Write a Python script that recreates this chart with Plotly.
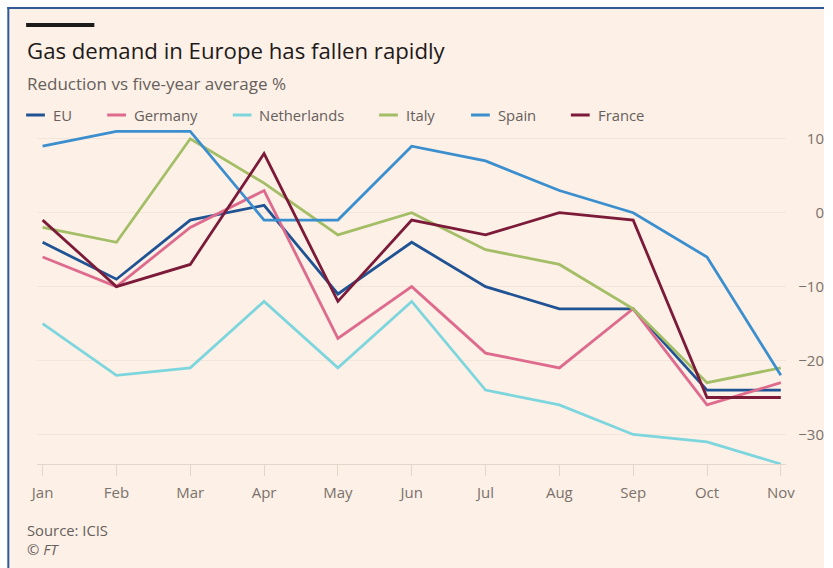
import plotly.graph_objects as go

# --- data -------------------------------------------------------------
months = ["Jan", "Feb", "Mar", "Apr", "May", "Jun", "Jul", "Aug", "Sep", "Oct", "Nov"]

eu = [-4, -9, -1, 1, -11, -4, -10, -13, -13, -24, -24]
germany = [-6, -10, -2, 3, -17, -10, -19, -21, -13, -26, -23]
netherlands = [-15, -22, -21, -12, -21, -12, -24, -26, -30, -31, -34]
italy = [-2, -4, 10, 4, -3, 0, -5, -7, -13, -23, -21]
spain = [9, 11, 11, -1, -1, 9, 7, 3, 0, -6, -22]
france = [-1, -10, -7, 8, -12, -1, -3, 0, -1, -25, -25]

series_names = ["EU", "Germany", "Netherlands", "Italy", "Spain", "France"]
series_values = [eu, germany, netherlands, italy, spain, france]
series_colors = ["#1f5394", "#de6b8d", "#7dd6de", "#a3be66", "#3b8fcf", "#7b1b39"]

y_ticks = [-30, -20, -10, 0, 10]
y_range = [-34, 12]

# --- page geometry (pixels) ------------------------------------------
W, H = 833, 568
M_L, M_R, M_T, M_B = 37, 0, 124, 104
PLOT_W = W - M_L - M_R
PLOT_H = H - M_T - M_B


def px_x(px):
    """Convert a horizontal pixel position into paper coordinates."""
    return (px - M_L) / PLOT_W


def px_y(py):
    """Convert a vertical pixel position into paper coordinates."""
    return (H - M_B - py) / PLOT_H


BG = "#fdf0e6"
TEXT = "#66605c"
MUTED = "#7a726c"
FONT = "Open Sans"

fig = go.Figure()

# empty trace that registers the full-width axis pair holding the value labels
fig.add_trace(go.Scatter(x=[], y=[], xaxis="x", yaxis="y", showlegend=False,
                         hoverinfo="skip"))

for name, vals, color in zip(series_names, series_values, series_colors):
    fig.add_trace(go.Scatter(
        x=months, y=vals, name=name, mode="lines",
        line=dict(color=color, width=2.8),
        xaxis="x2", yaxis="y2", showlegend=False,
        hovertemplate=name + ": %{y}<extra></extra>",
    ))

shapes = [
    # cream page with a blue frame along the top and left edges
    dict(type="rect", xref="paper", yref="paper", layer="below",
         x0=px_x(8), x1=px_x(W), y0=px_y(H), y1=px_y(8),
         fillcolor=BG, line=dict(width=0)),
    dict(type="line", xref="paper", yref="paper",
         x0=px_x(7), x1=px_x(W), y0=px_y(8), y1=px_y(8),
         line=dict(color="#2f5a98", width=2)),
    dict(type="line", xref="paper", yref="paper",
         x0=px_x(8), x1=px_x(8), y0=px_y(7), y1=px_y(H),
         line=dict(color="#2f5a98", width=2)),
    # short black rule above the headline
    dict(type="rect", xref="paper", yref="paper",
         x0=px_x(26), x1=px_x(95), y0=px_y(27), y1=px_y(23),
         fillcolor="#1d1a1a", line=dict(width=0)),
]

annotations = [
    dict(text="Gas demand in Europe has fallen rapidly", x=px_x(25), y=px_y(50),
         xref="paper", yref="paper", xanchor="left", yanchor="middle", showarrow=False,
         font=dict(family=FONT, size=22.2, color="#1d1a1a")),
    dict(text="Reduction vs five-year average %", x=px_x(25), y=px_y(83),
         xref="paper", yref="paper", xanchor="left", yanchor="middle", showarrow=False,
         font=dict(family=FONT, size=17, color=TEXT)),
    dict(text="Source: ICIS", x=px_x(25), y=px_y(530),
         xref="paper", yref="paper", xanchor="left", yanchor="middle", showarrow=False,
         font=dict(family=FONT, size=14.8, color=TEXT)),
    dict(text="<i>© FT</i>", x=px_x(25), y=px_y(549),
         xref="paper", yref="paper", xanchor="left", yanchor="middle", showarrow=False,
         font=dict(family=FONT, size=14.8, color=TEXT)),
]

# legend row: short coloured key followed by the series name
legend_x = [26, 108, 235, 383, 476, 577]
legend_y = 115
for lx, name, color in zip(legend_x, series_names, series_colors):
    shapes.append(dict(type="line", xref="paper", yref="paper",
                       x0=px_x(lx), x1=px_x(lx + 19), y0=px_y(legend_y), y1=px_y(legend_y),
                       line=dict(color=color, width=3)))
    annotations.append(dict(text=name, x=px_x(lx + 25), y=px_y(legend_y),
                            xref="paper", yref="paper", xanchor="left", yanchor="middle",
                            showarrow=False, font=dict(family=FONT, size=14.8, color=TEXT)))

grid_end = 795
fig.update_layout(
    width=W, height=H,
    margin=dict(l=M_L, r=M_R, t=M_T, b=M_B),
    paper_bgcolor="white",
    plot_bgcolor="rgba(0,0,0,0)",
    font=dict(family=FONT, color=MUTED),
    showlegend=False,
    shapes=shapes,
    annotations=annotations,
    # full-width axis pair: carries only the right-aligned value labels
    xaxis=dict(domain=[0, 1], anchor="y", range=[0, 1], showgrid=False,
               zeroline=False, showline=False, showticklabels=False, ticks=""),
    yaxis=dict(anchor="x", side="right", range=y_range, tickvals=y_ticks,
               ticklabelposition="inside", ticks="", showgrid=False,
               zeroline=False, showline=False, ticklabelstandoff=-3,
               tickfont=dict(family=FONT, size=15, color=MUTED)),
    # data axis pair: grid, month axis and the lines
    xaxis2=dict(domain=[0, px_x(grid_end)], anchor="y2", type="category",
                range=[-0.076, len(months) - 1 + 0.076],
                showgrid=False, zeroline=False, showline=True,
                linecolor="#e3d6cb", linewidth=1,
                ticks="outside", ticklen=11, tickcolor="#e3d6cb",
                ticklabelstandoff=4,
                tickfont=dict(family=FONT, size=15, color=MUTED)),
    yaxis2=dict(anchor="x2", range=y_range, tickvals=y_ticks, showgrid=True,
                gridcolor="#f3e5d9", gridwidth=1, zeroline=False,
                showticklabels=False, ticks=""),
)

fig.write_html("out.html")
